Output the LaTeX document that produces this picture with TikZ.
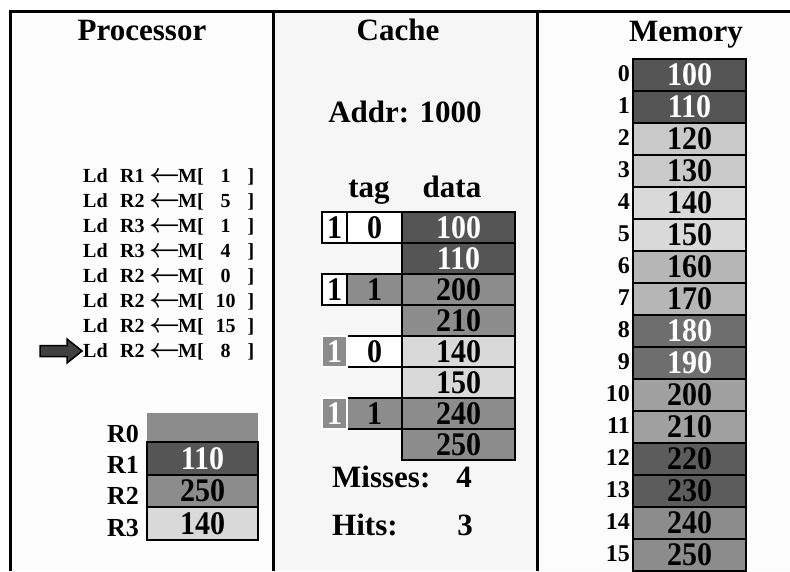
\documentclass[tikz,border=0pt]{standalone}
\usepackage{fontspec}
\setmainfont{Liberation Serif}
\usepackage{graphicx}
\usetikzlibrary{positioning}
\definecolor{procbg}{RGB}{253,253,253}
\definecolor{cachebg}{RGB}{246,246,246}
\definecolor{membg}{RGB}{252,252,252}
\definecolor{cdark}{RGB}{85,85,85}
\definecolor{cmid}{RGB}{140,140,140}
\definecolor{clight}{RGB}{217,217,217}
\definecolor{cpale}{RGB}{201,201,201}
\definecolor{csoft}{RGB}{182,182,182}
\definecolor{cdim}{RGB}{110,110,110}
\definecolor{cgrey}{RGB}{160,160,160}
\definecolor{cdeep}{RGB}{92,92,92}
\newcommand{\val}[1]{\scalebox{1}[1.1]{#1}}
\newcommand{\ldinstr}[2]{\makebox[37pt][l]{Ld}\makebox[31pt][l]{#1}%
  \makebox[27pt][c]{\scalebox{1.3}{\boldmath$\leftarrow$}}%
  M[\makebox[44pt][c]{#2}]}
\tikzset{
  frame/.style={line width=3pt, draw=black},
  cell/.style={draw=black, line width=2.5pt, fill=#1, minimum width=113pt,
               minimum height=31pt, inner sep=0pt,
               font=\fontsize{30}{30}\selectfont\bfseries},
  cell/.default=cmid,
  head/.style={font=\fontsize{31}{31}\selectfont\bfseries, anchor=base,
               inner sep=0pt},
  instr/.style={font=\fontsize{20}{20}\selectfont\bfseries, anchor=base west,
                inner sep=0pt},
  reglabel/.style={font=\fontsize{26}{26}\selectfont\bfseries,
                   anchor=base east, inner sep=0pt},
  idx/.style={font=\fontsize{24}{24}\selectfont\bfseries, anchor=east,
              inner sep=0pt},
  pointer/.style={draw=black, line width=1.5pt, fill=black!75},
}
\begin{document}
\begin{tikzpicture}[x=1pt,y=-1pt]
  \useasboundingbox (0,0) rectangle (790,571);
  \fill[white] (0,0) rectangle (790,571);

  % Panels
  \fill[procbg] (10,11) rectangle (273.5,571);
  \fill[cachebg] (273.5,11) rectangle (537,571);
  \fill[membg] (537,11) rectangle (790,571);
  \draw[frame] (8.5,11) -- (790,11);
  \draw[frame] (10,11) -- (10,571);
  \draw[frame] (273.5,11) -- (273.5,571);
  \draw[frame] (537,11) -- (537,571);

  % Headings
  \node[head] (proc) at (142,40) {Processor};
  \node[head] (cache) at (398,40) {Cache};
  \node[head] (mem) at (686,41) {Memory};

  % Program
  \foreach \r/\a [count=\k from 0] in {R1/1, R2/5, R3/1, R3/4, R2/0, R2/10,
                                       R2/15, R2/8}
    \node[instr] (ld\k) at (83,{182+25*\k}) {\ldinstr{\r}{\a}};
  \draw[pointer] (40,345.5) -- (67,345.5) -- (67,339) -- (82,351)
    -- (67,363) -- (67,356.5) -- (40,356.5) -- cycle;

  % Registers
  \node[cell=cmid, draw=none, minimum width=111pt, minimum height=29pt]
    (r0) at (202.5,427.5) {};
  \node[cell=cdark, text=white, minimum width=111pt, minimum height=33pt]
    (r1) at (202.5,458.5) {\val{110}};
  \node[cell=cmid, minimum width=111pt, minimum height=32pt]
    (r2) at (202.5,491) {\val{250}};
  \node[cell=clight, minimum width=111pt, minimum height=33pt]
    (r3) at (202.5,523.5) {\val{140}};
  \node[reglabel] (l0) at (139,442) {R0};
  \node[reglabel] (l1) at (139,473) {R1};
  \node[reglabel] (l2) at (139,504) {R2};
  \node[reglabel] (l3) at (139,536) {R3};

  % Cache
  \node[head] (addr) at (405,122) {Addr: 1000};
  \node[head] (tag) at (369,197) {tag};
  \node[head] (data) at (452,197) {data};
  \foreach \v/\c/\t [count=\k from 0] in {100/cdark/white, 110/cdark/white,
      200/cmid/black, 210/cmid/black, 140/clight/black, 150/clight/black,
      240/cmid/black, 250/cmid/black}
    \node[cell=\c, text=\t] (d\k) at (458.5,{227.5+31*\k}) {\val{\v}};
  \node[cell=white, minimum width=55pt] (t0) at (374.5,227.5) {\val{0}};
  \node[cell=cmid, minimum width=55pt] (t1) at (374.5,289.5) {\val{1}};
  \node[cell=white, minimum width=55pt] (t2) at (374.5,351.5) {\val{0}};
  \node[cell=cmid, minimum width=55pt] (t3) at (374.5,413.5) {\val{1}};
  \node[cell=white, minimum width=25pt] (v0) at (334.5,227.5) {\val{1}};
  \node[cell=white, minimum width=25pt] (v1) at (334.5,289.5) {\val{1}};
  \node[cell=cmid, draw=white, text=white, minimum width=25pt]
    (v2) at (334.5,351.5) {\val{1}};
  \node[cell=cmid, draw=white, text=white, minimum width=25pt]
    (v3) at (334.5,413.5) {\val{1}};
  \node[head, anchor=base west] (miss) at (332,487) {Misses:};
  \node[head] (missn) at (464,487) {4};
  \node[head, anchor=base west] (hits) at (332,535) {Hits:};
  \node[head] (hitsn) at (465,535) {3};

  % Memory
  \foreach \v/\c/\t [count=\i from 0] in {100/cdark/white, 110/cdark/white,
      120/cpale/black, 130/cpale/black, 140/clight/black, 150/clight/black,
      160/csoft/black, 170/csoft/black, 180/cdim/white, 190/cdim/white,
      200/cgrey/black, 210/cgrey/black, 220/cdeep/black, 230/cdeep/black,
      240/cmid/black, 250/cmid/black} {
    \node[cell=\c, text=\t, minimum height=32pt] (m\i) at (689.5,{75+32*\i})
      {\val{\v}};
    \node[idx] (a\i) at (630,{74+32*\i}) {\i};
  }
\end{tikzpicture}
\end{document}
